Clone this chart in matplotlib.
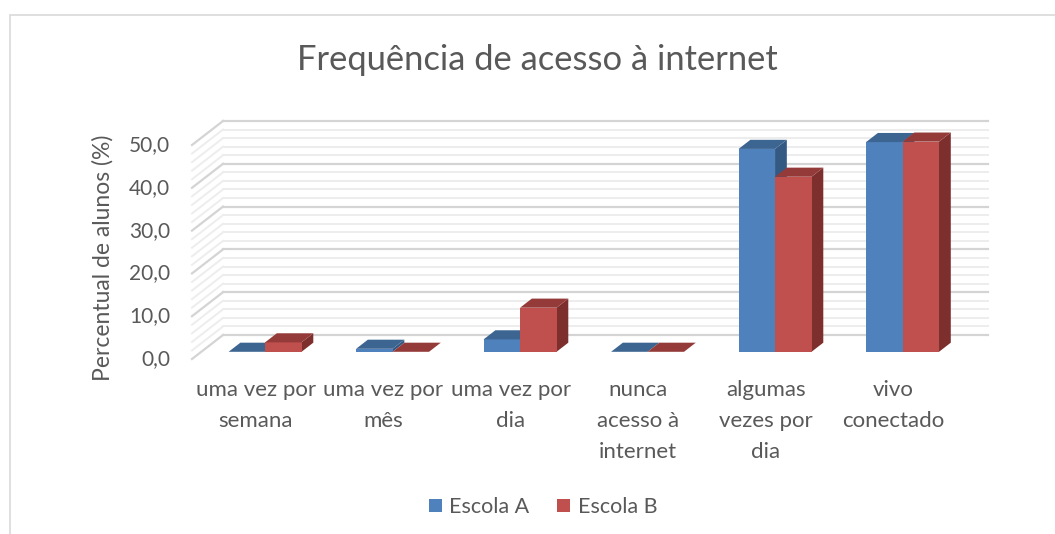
import matplotlib
matplotlib.use('Agg')
import matplotlib.pyplot as plt
from matplotlib.patches import Polygon, Rectangle, Patch

plt.rcParams['font.family'] = ['Lato', 'DejaVu Sans']

categories = ['uma vez por\nsemana', 'uma vez por\nmês', 'uma vez por\ndia',
              'nunca\nacesso à\ninternet', 'algumas\nvezes por\ndia', 'vivo\nconectado']
escola_a = [0.0, 0.7, 2.9, 0.0, 47.4, 49.0]
escola_b = [2.2, 0.0, 10.3, 0.0, 40.9, 49.1]
yticks = [0, 10, 20, 30, 40, 50]
ytick_labels = ['0,0', '10,0', '20,0', '30,0', '40,0', '50,0']

text_color = '#595959'
blue = ('#4F81BD', '#3D6591', '#345983')   # front, top, side
red = ('#C0504D', '#943B39', '#7C2F2D')

W, H = 1055, 534
fig = plt.figure(figsize=(W / 100, H / 100), dpi=100)
ax = fig.add_axes([0, 0, 1, 1])
ax.axis('off')

# pixel mapping for the front plane: x 0..6 -> 192..957 px, y 0..50 -> 359..145 px
px_x, x0 = 127.5, 192
px_y, y0 = 4.28, 359
ax.set_xlim(-x0 / px_x, (W - x0) / px_x)
ax.set_ylim((y0 - H) / px_y, y0 / px_y)

# oblique depth vector (full wall depth)
DX, DY = 31 / px_x, 24 / px_y

# chart border
fig.patches.append(Rectangle((10 / W, -0.1), 1.2, (H - 15) / H + 0.1,
                             transform=fig.transFigure, fill=False,
                             edgecolor='#D9D9D9', linewidth=1.2))

# gridlines: side wall + back wall
n = len(categories)
for v in range(0, 51, 2):
    major = v % 10 == 0
    c = '#D4D4D4' if major else '#EDEDED'
    lw = 1.6 if major else 1.4
    ax.plot([0, DX], [v, v + DY], color=c, lw=lw, zorder=1)
    ax.plot([DX, n + DX], [v + DY, v + DY], color=c, lw=lw, zorder=1)

# 3D-looking bars
bw = 0.286
f0, f1 = 0.30, 0.68
ox, oy = f0 * DX, f0 * DY
dx, dy = (f1 - f0) * DX, (f1 - f0) * DY


def bar3d(x, h, cols):
    b = oy
    front = [(x, b), (x + bw, b), (x + bw, b + h), (x, b + h)]
    top = [(x, b + h), (x + bw, b + h), (x + bw + dx, b + h + dy), (x + dx, b + h + dy)]
    side = [(x + bw, b), (x + bw + dx, b + dy), (x + bw + dx, b + h + dy), (x + bw, b + h)]
    ax.add_patch(Polygon(side, closed=True, facecolor=cols[2], edgecolor='none', zorder=3))
    ax.add_patch(Polygon(front, closed=True, facecolor=cols[0], edgecolor='none', zorder=3))
    ax.add_patch(Polygon(top, closed=True, facecolor=cols[1], edgecolor='none', zorder=3))


for i in range(n):
    xc = i + 0.5 + ox
    bar3d(xc - bw, escola_a[i], blue)
    bar3d(xc, escola_b[i], red)

# tick labels
for v, lab in zip(yticks, ytick_labels):
    ax.text(-22 / px_x, v, lab, ha='right', va='center', fontsize=15, color=text_color)

for i, lab in enumerate(categories):
    ax.text(i + 0.5, -4.9, lab, ha='center', va='top', fontsize=16,
            color=text_color, linespacing=1.68)

fig.text(103 / W, 1 - 258 / H, 'Percentual de alunos (%)', rotation=90,
         ha='center', va='center', fontsize=16.5, color=text_color)
fig.text(537 / W, 1 - 60 / H, 'Frequência de acesso à internet', ha='center',
         va='center', fontsize=24.8, color=text_color)

handles = [Patch(facecolor=blue[0]), Patch(facecolor=red[0])]
fig.legend(handles, ['Escola A', 'Escola B'], loc='center', ncol=2,
           bbox_to_anchor=(543 / W, 1 - 507 / H), frameon=False, fontsize=15.5,
           labelcolor=text_color, handlelength=0.6, handleheight=0.6,
           handletextpad=0.35, columnspacing=1.3)

fig.savefig('out.png', dpi=100)
